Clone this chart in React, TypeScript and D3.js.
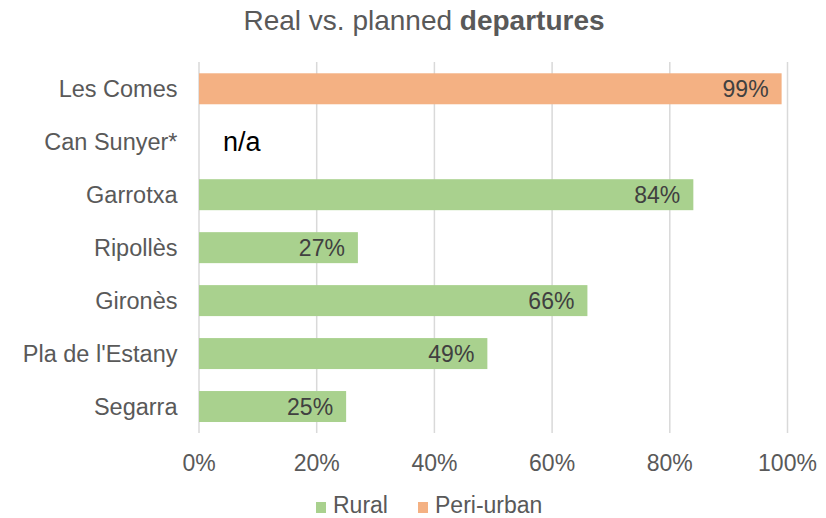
import React from "react";
import * as d3 from "d3";

const categories = ["Les Comes", "Can Sunyer*", "Garrotxa", "Ripollès", "Gironès", "Pla de l'Estany", "Segarra"];
const values: (number | null)[] = [0.99, null, 0.84, 0.27, 0.66, 0.49, 0.25];
const groups = ["Peri-urban", "Peri-urban", "Rural", "Rural", "Rural", "Rural", "Rural"];
const xTicks = [0, 0.2, 0.4, 0.6, 0.8, 1.0];
const legendItems = ["Rural", "Peri-urban"];
const colors: Record<string, string> = { Rural: "#A9D18E", "Peri-urban": "#F4B183" };

const W = 826;
const H = 518;
const FONT = "'Liberation Sans', Arial, Helvetica, sans-serif";

export default function App() {
  const x = d3.scaleLinear().domain([0, 1]).range([199, 787.5]);
  const y = d3
    .scaleBand<string>()
    .domain(categories)
    .range([62.3, 433])
    .paddingInner(0.415)
    .paddingOuter(0.2075);
  const fmt = d3.format(".0%");
  const bw = y.bandwidth();

  return (
    <svg
      width={W}
      height={H}
      style={{ position: "absolute", left: 0, top: 0, display: "block", background: "#fff" }}
      fontFamily={FONT}
    >
      <text x={424} y={30} textAnchor="middle" fontSize={28} fill="#595959">
        Real vs. planned <tspan fontWeight="bold">departures</tspan>
      </text>

      {xTicks.map((t) => (
        <line key={"g" + t} x1={x(t)} x2={x(t)} y1={62} y2={433} stroke="#D9D9D9" strokeWidth={1.5} />
      ))}

      {xTicks.map((t) => (
        <text key={"t" + t} x={x(t)} y={471} textAnchor="middle" fontSize={23} fill="#595959">
          {fmt(t)}
        </text>
      ))}

      {categories.map((c) => (
        <text
          key={"c" + c}
          x={177.5}
          y={(y(c) as number) + bw / 2}
          dy="0.35em"
          textAnchor="end"
          fontSize={23.5}
          fill="#595959"
        >
          {c}
        </text>
      ))}

      {categories.map((c, i) => {
        const v = values[i];
        const yy = y(c) as number;
        if (v === null) {
          return (
            <text key={"b" + c} x={223} y={yy + bw / 2} dy="0.35em" fontSize={27} fill="#000">
              n/a
            </text>
          );
        }
        return (
          <g key={"b" + c}>
            <rect x={x(0)} y={yy} width={x(v) - x(0)} height={bw} fill={colors[groups[i]]} />
            <text
              x={x(v) - 13}
              y={yy + bw / 2}
              dy="0.35em"
              textAnchor="end"
              fontSize={23}
              fill="#404040"
            >
              {fmt(v)}
            </text>
          </g>
        );
      })}

      {legendItems.map((l, i) => {
        const lx = i === 0 ? 316 : 418;
        return (
          <g key={"l" + l}>
            <rect x={lx} y={502} width={10} height={11} fill={colors[l]} />
            <text x={lx + 17} y={513} fontSize={23} fill="#595959">
              {l}
            </text>
          </g>
        );
      })}
    </svg>
  );
}
